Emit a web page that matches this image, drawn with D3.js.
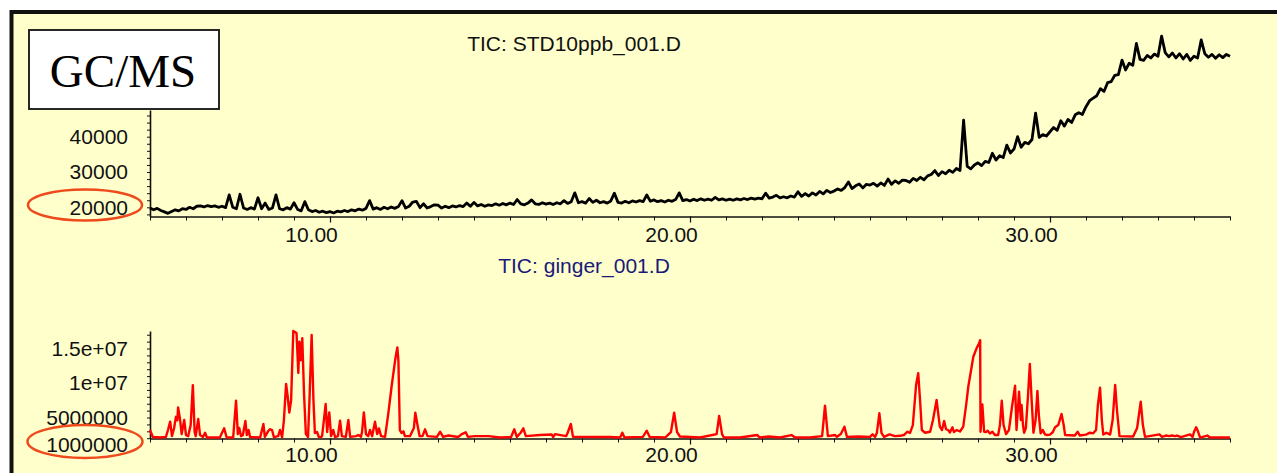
<!DOCTYPE html>
<html><head><meta charset="utf-8">
<script src="https://cdn.jsdelivr.net/npm/d3@7/dist/d3.min.js"></script>
<style>html,body{margin:0;padding:0;background:#fff;overflow:hidden}</style>
</head><body><svg id="c" width="1277" height="473"></svg>
<script>
// ---------- DATA ----------
const badgeText = "GC/MS";
const stdTitle = "TIC: STD10ppb_001.D";
const gingerTitle = "TIC: ginger_001.D";

// retention-time tick labels (min)
const xTickValues = [10, 20, 30];
const xTickLabels = ["10.00", "20.00", "30.00"];

// abundance tick labels
const stdYTickValues = [20000, 30000, 40000];
const stdYTickLabels = ["20000", "30000", "40000"];
const gingerYTickValues = [1000000, 5000000, 10000000, 15000000];
const gingerYTickLabels = ["1000000", "5000000", "1e+07", "1.5e+07"];

// STD10ppb TIC: abundance per scan, scans every 0.1 min starting at 5.0 min
const stdScanStart = 5.0, stdScanStep = 0.1;
const stdTic = [
19800,19300,19700,19100,18700,18300,18800,19300,19000,19600,
19400,20000,19600,20300,20400,20100,20500,20200,20400,20000,
20300,19900,23500,20000,19600,23700,19800,19400,19900,19500,
22700,19600,21200,19400,19800,23500,19600,19300,19900,19500,
21300,19400,19000,21600,19300,18800,19100,18600,18900,18500,
18800,18400,18900,18700,19100,18800,19300,19000,19500,19200,
19700,21900,19500,19900,19400,20000,19600,20100,19700,20200,
21900,19800,20300,21500,21700,19900,21000,19800,20200,20700,
20600,19800,20300,19900,20400,20100,20500,20200,21200,20300,
21400,20400,20800,20300,20700,20500,21000,20600,21100,20700,
21200,20800,22200,21000,20700,21200,22100,21000,20800,21300,
20900,21200,20800,21300,21000,21900,21100,21600,24100,21300,
21600,21200,22500,21400,22000,21300,21600,21200,21800,24000,
21400,21200,21700,21300,21800,21500,21900,21600,23500,21700,
22100,21600,21900,21500,22000,21700,22200,24100,21900,22200,
21800,22300,21900,22400,22000,22300,22000,22800,22100,22400,
22000,22300,22000,22400,22100,22500,22200,22600,22300,22600,
22400,24000,22600,22900,23400,22700,23000,22700,23200,22900,
24400,23100,23900,23200,24100,23500,24500,23800,24800,24200,
24600,25200,24800,25600,27200,25300,26100,26600,25500,26500,
26300,26800,26000,26900,26200,28000,26500,27500,26800,27700,
27600,27100,28200,27600,28500,27800,28900,29300,30400,29000,
30100,29500,30500,29900,31000,30400,44700,31600,30900,32000,
32600,31800,33000,32700,35300,33400,34600,34100,37600,35400,
36500,40000,37000,38400,38000,39200,46700,39800,40600,40200,
41400,42600,41800,44500,43000,44900,44000,46200,46800,46300,
48500,50200,50900,51600,53600,52800,55300,55600,57400,57600,
61700,58900,60800,60200,66400,61900,61600,63000,62300,63400,
62800,68500,63800,62600,63700,62300,63500,62000,63300,61600,
62800,62300,67400,63500,62500,63300,62200,63200,62400,63300,
62800
];

// ginger TIC: [retention time (min), abundance]
const gingerTic = [
[5.00,3.19e6],[5.08,2.17e6],[5.28,2.10e6],[5.44,2.17e6],[5.50,3.19e6],[5.56,4.40e6],[5.61,2.30e6],[5.67,3.48e6],[5.72,5.10e6],[5.76,4.60e6],[5.78,6.45e6],[5.83,4.90e6],[5.88,2.60e6],[5.95,4.64e6],[6.00,2.46e6],[6.06,2.30e6],[6.13,3.90e6],[6.19,9.70e6],[6.24,2.90e6],[6.27,2.30e6],[6.34,4.78e6],[6.39,2.46e6],[6.47,2.17e6],[6.53,2.80e6],[6.58,2.10e6],[6.94,2.10e6],[7.06,3.43e6],[7.13,2.10e6],[7.31,2.10e6],[7.39,7.43e6],[7.44,2.60e6],[7.48,3.48e6],[7.53,2.30e6],[7.58,2.46e6],[7.65,4.49e6],[7.69,2.46e6],[7.74,3.19e6],[7.78,2.17e6],[8.06,2.10e6],[8.15,4.06e6],[8.19,2.20e6],[8.28,3.00e6],[8.33,3.30e6],[8.39,3.19e6],[8.44,2.17e6],[8.56,2.30e6],[8.61,3.19e6],[8.67,2.17e6],[8.72,4.64e6],[8.78,9.86e6],[8.82,8.26e6],[8.87,5.72e6],[8.92,7.54e6],[8.98,17.54e6],[9.07,17.25e6],[9.12,11.45e6],[9.15,16.00e6],[9.19,13.30e6],[9.23,16.48e6],[9.28,8.26e6],[9.33,2.60e6],[9.39,2.17e6],[9.43,7.54e6],[9.49,16.96e6],[9.54,7.54e6],[9.58,2.75e6],[9.64,2.90e6],[9.69,2.17e6],[9.75,2.17e6],[9.78,2.30e6],[9.83,4.64e6],[9.88,6.96e6],[9.92,2.90e6],[9.98,5.75e6],[10.03,2.30e6],[10.09,3.19e6],[10.14,2.17e6],[10.22,2.30e6],[10.28,4.54e6],[10.33,2.30e6],[10.44,2.20e6],[10.51,4.64e6],[10.56,2.20e6],[10.72,2.30e6],[10.79,2.46e6],[10.86,2.20e6],[10.89,2.90e6],[10.94,5.75e6],[11.00,2.60e6],[11.06,2.30e6],[11.11,3.19e6],[11.17,2.30e6],[11.25,4.39e6],[11.31,2.60e6],[11.36,3.43e6],[11.42,2.30e6],[11.53,2.20e6],[11.62,5.61e6],[11.71,9.46e6],[11.81,13.33e6],[11.87,15.17e6],[11.90,13.30e6],[11.94,3.19e6],[11.99,2.75e6],[12.04,3.00e6],[12.08,2.30e6],[12.22,2.30e6],[12.33,3.48e6],[12.37,5.70e6],[12.43,3.91e6],[12.49,2.30e6],[12.57,2.30e6],[12.64,3.29e6],[12.71,2.30e6],[12.97,2.20e6],[13.06,2.94e6],[13.14,2.20e6],[13.29,2.39e6],[13.56,2.17e6],[13.66,2.60e6],[13.77,2.86e6],[13.83,2.20e6],[14.03,2.30e6],[14.40,2.30e6],[14.72,2.10e6],[15.03,2.17e6],[15.12,3.29e6],[15.19,2.20e6],[15.29,2.75e6],[15.37,3.43e6],[15.44,2.30e6],[15.83,2.46e6],[16.16,2.53e6],[16.20,2.17e6],[16.25,2.60e6],[16.56,2.30e6],[16.61,2.90e6],[16.69,4.06e6],[16.75,2.20e6],[17.31,2.17e6],[17.78,2.17e6],[18.06,2.10e6],[18.12,2.80e6],[18.18,2.10e6],[18.69,2.20e6],[18.80,3.09e6],[18.88,2.17e6],[19.31,2.10e6],[19.47,2.90e6],[19.56,5.70e6],[19.64,2.90e6],[19.72,2.25e6],[20.28,2.10e6],[20.74,2.60e6],[20.81,5.22e6],[20.89,2.60e6],[20.94,2.10e6],[21.39,2.10e6],[21.87,2.46e6],[21.94,2.10e6],[22.18,2.25e6],[22.50,2.10e6],[22.82,2.46e6],[22.92,2.10e6],[23.33,2.10e6],[23.67,2.30e6],[23.75,6.71e6],[23.83,2.30e6],[24.03,2.46e6],[24.08,2.20e6],[24.15,2.46e6],[24.19,2.60e6],[24.29,3.67e6],[24.36,2.20e6],[24.68,2.25e6],[25.00,2.20e6],[25.07,2.56e6],[25.14,2.17e6],[25.19,2.75e6],[25.26,5.61e6],[25.32,2.75e6],[25.39,2.20e6],[25.54,2.56e6],[25.69,2.30e6],[25.83,2.35e6],[25.94,2.46e6],[26.04,2.94e6],[26.11,2.75e6],[26.19,3.91e6],[26.28,9.71e6],[26.34,11.41e6],[26.39,7.54e6],[26.44,3.19e6],[26.53,2.80e6],[26.67,2.94e6],[26.75,4.64e6],[26.85,7.54e6],[26.90,5.36e6],[26.94,3.67e6],[27.00,3.19e6],[27.06,4.49e6],[27.11,3.33e6],[27.17,3.19e6],[27.22,2.83e6],[27.29,3.58e6],[27.33,2.90e6],[27.41,3.19e6],[27.50,2.97e6],[27.59,3.67e6],[27.67,6.81e6],[27.73,9.46e6],[27.87,13.81e6],[27.96,15.03e6],[28.03,15.75e6],[28.06,16.20e6],[28.07,2.94e6],[28.12,6.91e6],[28.17,2.94e6],[28.22,2.90e6],[28.27,3.09e6],[28.33,2.70e6],[28.40,2.94e6],[28.47,2.46e6],[28.56,2.46e6],[28.61,3.91e6],[28.66,7.43e6],[28.71,3.91e6],[28.78,2.60e6],[28.86,3.19e6],[28.94,6.38e6],[29.03,9.61e6],[29.07,3.19e6],[29.14,8.74e6],[29.19,4.64e6],[29.21,6.81e6],[29.25,3.91e6],[29.28,2.80e6],[29.33,3.48e6],[29.39,8.26e6],[29.44,12.75e6],[29.49,7.54e6],[29.54,2.80e6],[29.60,4.64e6],[29.65,8.84e6],[29.69,5.36e6],[29.74,2.71e6],[29.80,3.19e6],[29.86,2.56e6],[29.92,2.46e6],[30.00,2.53e6],[30.08,2.90e6],[30.14,3.58e6],[30.23,3.91e6],[30.32,5.51e6],[30.38,3.91e6],[30.42,2.46e6],[30.69,2.39e6],[30.77,2.94e6],[30.83,2.39e6],[31.00,2.53e6],[31.11,2.80e6],[31.20,2.71e6],[31.28,3.19e6],[31.33,6.81e6],[31.39,9.32e6],[31.44,4.64e6],[31.48,2.53e6],[31.57,2.80e6],[31.67,2.53e6],[31.74,4.64e6],[31.81,9.71e6],[31.86,6.09e6],[31.93,2.30e6],[32.31,2.25e6],[32.42,3.48e6],[32.52,7.29e6],[32.58,3.91e6],[32.64,2.20e6],[33.04,2.56e6],[33.11,2.20e6],[33.22,2.39e6],[33.31,2.30e6],[33.39,2.39e6],[33.47,2.30e6],[33.53,2.39e6],[33.64,2.17e6],[33.89,2.56e6],[33.96,2.17e6],[34.00,2.90e6],[34.06,3.58e6],[34.11,3.00e6],[34.17,2.10e6],[34.37,2.39e6],[34.44,2.10e6],[35.00,2.10e6]
];

// ---------- DRAW ----------
const svg = d3.select("#c");
const FONT = "'Liberation Sans', Arial, Helvetica, sans-serif";

svg.append("rect").attr("width",1277).attr("height",473).attr("fill","#fff");
svg.append("rect").attr("x",11.5).attr("y",12).attr("width",1400).attr("height",600)
  .attr("fill","#FFFFCC").attr("stroke","#111").attr("stroke-width",4);

const x = d3.scaleLinear().domain([5, 35]).range([150, 1230]);
const yStd = d3.scaleLinear().domain([17400, 47560]).range([216.5, 110]);
const yGin = d3.scaleLinear().domain([1.96e6, 17.54e6]).range([438.5, 331]);

function drawPanel(yScale, axisY, minorStep, yTickVals, yTickLabs, labelY) {
  const [d0, d1] = yScale.domain();
  const gx = svg.append("g").attr("transform", `translate(0,${axisY})`)
    .call(d3.axisBottom(x).tickValues(d3.range(5, 35.001, 1)).tickSize(4).tickSizeOuter(0).tickFormat(""));
  gx.select(".domain").attr("stroke","#111").attr("stroke-width",1.6);
  gx.selectAll(".tick line").attr("stroke","#111").attr("stroke-width",1);
  const gxl = svg.append("g").attr("transform", `translate(0,${axisY})`)
    .call(d3.axisBottom(x).tickValues(xTickValues).tickSize(6).tickSizeOuter(0)
      .tickFormat((d,i)=>xTickLabels[i]));
  gxl.select(".domain").remove();
  gxl.selectAll(".tick line").attr("stroke","#111").attr("stroke-width",1.2);
  gxl.selectAll(".tick text").attr("y", labelY).attr("dy", 0).attr("dx", -19)
    .attr("fill","#111").style("font-family",FONT).style("font-size","21px");
  const minors = d3.range(Math.ceil(d0/minorStep)*minorStep, d1, minorStep);
  const gy = svg.append("g").attr("transform", "translate(150,0)")
    .call(d3.axisLeft(yScale).tickValues(minors).tickSize(3).tickSizeOuter(0).tickFormat(""));
  gy.select(".domain").attr("stroke","#111").attr("stroke-width",1.6);
  gy.selectAll(".tick line").attr("stroke","#111").attr("stroke-width",1);
  const gyl = svg.append("g").attr("transform", "translate(150,0)")
    .call(d3.axisLeft(yScale).tickValues(yTickVals).tickSize(0).tickPadding(22)
      .tickFormat((d,i)=>yTickLabs[i]));
  gyl.select(".domain").remove();
  gyl.selectAll(".tick text").attr("fill","#111").style("font-family",FONT).style("font-size","21px");
}

drawPanel(yStd, 216.5, 2000, stdYTickValues, stdYTickLabels, 25);
drawPanel(yGin, 438.5, 1e6, gingerYTickValues, gingerYTickLabels, 23.2);

const stdPts = stdTic.map((v,i)=>[stdScanStart + i*stdScanStep, v]);
svg.append("path").datum(stdPts)
  .attr("d", d3.line().x(d=>x(d[0])).y(d=>yStd(d[1])))
  .attr("fill","none").attr("stroke","#000").attr("stroke-width",2.8).attr("stroke-linejoin","round");
svg.append("path").datum(gingerTic)
  .attr("d", d3.line().x(d=>x(d[0])).y(d=>yGin(d[1])))
  .attr("fill","none").attr("stroke","#FF0000").attr("stroke-width",2.4).attr("stroke-linejoin","round");

svg.append("text").attr("x",574).attr("y",51).attr("text-anchor","middle")
  .style("font-family",FONT).style("font-size","21px").attr("fill","#111").text(stdTitle);
svg.append("text").attr("x",584).attr("y",273).attr("text-anchor","middle")
  .style("font-family",FONT).style("font-size","21px").attr("fill","#1a1a7a").text(gingerTitle);

svg.append("rect").attr("x",29).attr("y",30).attr("width",190).attr("height",79)
  .attr("fill","#fff").attr("stroke","#111").attr("stroke-width",1.8);
svg.append("text").attr("x",123).attr("y",87).attr("text-anchor","middle")
  .style("font-family","'Liberation Serif','Times New Roman',serif").style("font-size","47px")
  .attr("fill","#000").text(badgeText);

svg.append("ellipse").attr("cx",85).attr("cy",205).attr("rx",57).attr("ry",15.5)
  .attr("fill","none").attr("stroke","#EE4A1C").attr("stroke-width",2.5);
svg.append("ellipse").attr("cx",85).attr("cy",441.5).attr("rx",57.5).attr("ry",16.5)
  .attr("fill","none").attr("stroke","#EE4A1C").attr("stroke-width",2.5);
</script></body></html>
